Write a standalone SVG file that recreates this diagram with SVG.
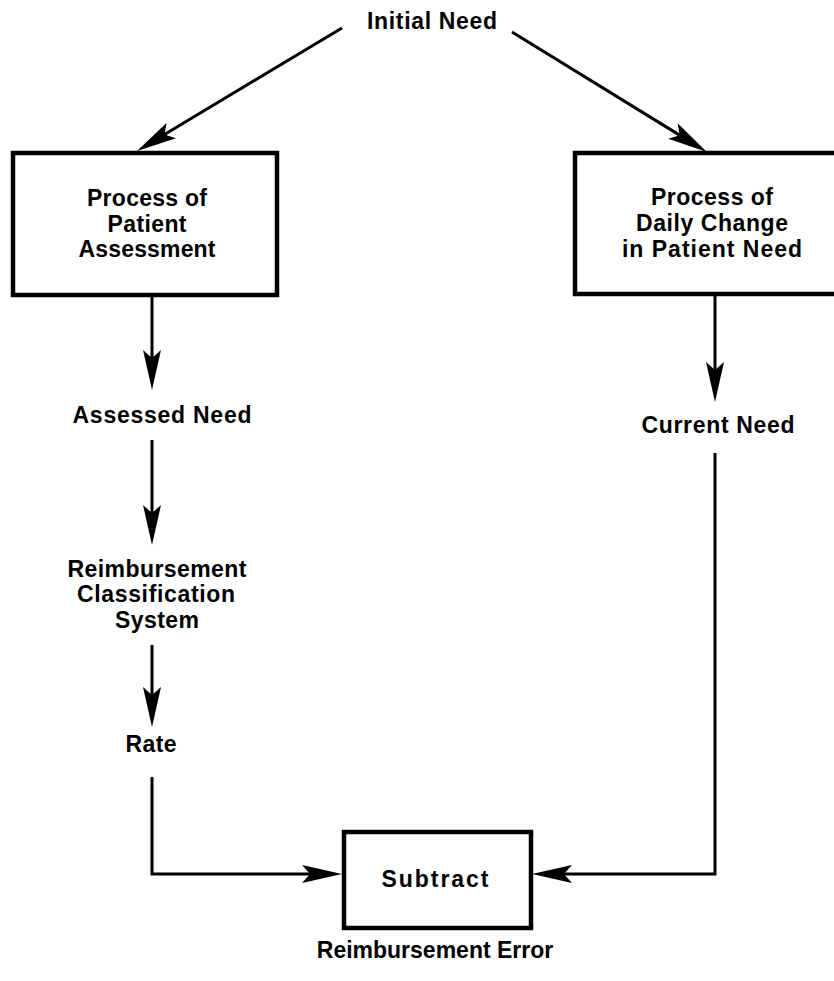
<svg xmlns="http://www.w3.org/2000/svg" width="834" height="981" viewBox="0 0 834 981">
<style>
  .box { fill: #fff; stroke: #000; stroke-width: 4.5; }
  .conn { fill: none; stroke: #000; stroke-width: 3; stroke-linejoin: miter; }
  text { font-family: "Liberation Sans", Arial, sans-serif; font-weight: bold; font-size: 23px; fill: #000; text-anchor: middle; }
</style>
<defs>
  <marker id="arr" markerUnits="userSpaceOnUse" viewBox="-30 -10 50 20" refX="0" refY="0" markerWidth="50" markerHeight="20" orient="auto" overflow="visible">
    <path d="M15,0 L-25,-9 L-17,0 L-25,9 Z" fill="#000"/>
  </marker>
</defs>
<rect width="834" height="981" fill="#fff"/>
<g id="connectors">
  <line class="conn" x1="342" y1="28" x2="149.9" y2="143.3" marker-end="url(#arr)"/>
  <line class="conn" x1="512" y1="32" x2="694.2" y2="144.1" marker-end="url(#arr)"/>
  <line class="conn" x1="152" y1="295" x2="152" y2="375" marker-end="url(#arr)"/>
  <line class="conn" x1="152" y1="440" x2="152" y2="530" marker-end="url(#arr)"/>
  <line class="conn" x1="152" y1="645" x2="152" y2="712" marker-end="url(#arr)"/>
  <polyline class="conn" points="152,777 152,874 327,874" marker-end="url(#arr)"/>
  <line class="conn" x1="715" y1="295" x2="715" y2="387" marker-end="url(#arr)"/>
  <polyline class="conn" points="715,453 715,874 547,874" marker-end="url(#arr)"/>
</g>
<g id="initial-need">
  <text x="432" y="29" textLength="130" lengthAdjust="spacing">Initial Need</text>
</g>
<g id="patient-assessment">
  <rect class="box" x="13" y="153" width="264" height="142"/>
  <text x="147" y="206" textLength="120" lengthAdjust="spacing">Process of</text>
  <text x="147" y="232" textLength="79" lengthAdjust="spacing">Patient</text>
  <text x="147" y="257" textLength="137" lengthAdjust="spacing">Assessment</text>
</g>
<g id="daily-change">
  <rect class="box" x="575" y="153" width="275" height="141"/>
  <text x="712" y="205" textLength="122" lengthAdjust="spacing">Process of</text>
  <text x="712" y="231" textLength="152" lengthAdjust="spacing">Daily Change</text>
  <text x="712" y="257" textLength="180" lengthAdjust="spacing">in Patient Need</text>
</g>
<g id="assessed-need">
  <text x="162" y="423" textLength="179" lengthAdjust="spacing">Assessed Need</text>
</g>
<g id="classification-system">
  <text x="157" y="577" textLength="179" lengthAdjust="spacing">Reimbursement</text>
  <text x="156" y="602" textLength="158" lengthAdjust="spacing">Classification</text>
  <text x="157" y="628" textLength="84" lengthAdjust="spacing">System</text>
</g>
<g id="rate">
  <text x="151" y="752" textLength="51" lengthAdjust="spacing">Rate</text>
</g>
<g id="current-need">
  <text x="718" y="433" textLength="153" lengthAdjust="spacing">Current Need</text>
</g>
<g id="subtract">
  <rect class="box" x="344" y="832" width="187" height="96"/>
  <text x="435" y="887" textLength="107" lengthAdjust="spacing">Subtract</text>
</g>
<g id="reimbursement-error">
  <text x="435" y="958">Reimbursement Error</text>
</g>
</svg>
